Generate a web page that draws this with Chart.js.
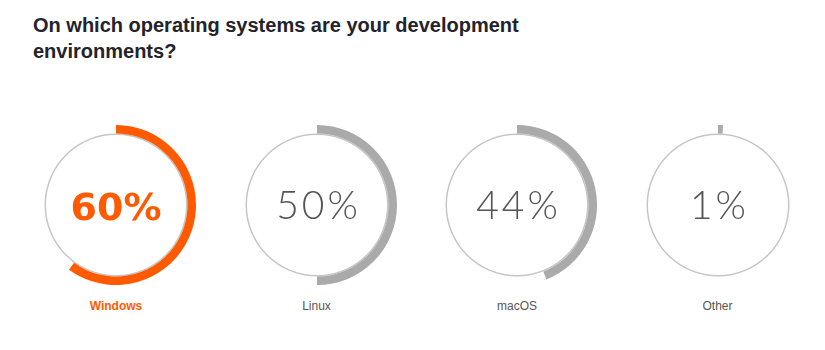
<!DOCTYPE html>
<html>
<head>
<meta charset="utf-8">
<script src="https://cdn.jsdelivr.net/npm/chart.js@4.4.1/dist/chart.umd.min.js"></script>
<style>
  body { margin: 0; background: #fff; width: 825px; height: 350px; position: relative; overflow: hidden; }
  h1 { position: absolute; left: 33px; top: 11.5px; margin: 0; width: 520px;
       font: bold 20px "Liberation Sans", Arial, sans-serif; line-height: 26.6px; color: #23232b; }
  .ring { position: absolute; top: 125px; width: 160px; height: 160px; }
  .label { position: absolute; top: 299px; width: 160px; text-align: center;
           font: 12px "Liberation Sans", Arial, sans-serif; color: #555; }
  .label.hi { color: #ff5a00; font-weight: bold; }
</style>
</head>
<body>
<h1>On which operating systems are your development environments?</h1>
<div id="charts"></div>
<script>
// survey results
const systems = ["Windows", "Linux", "macOS", "Other"];
const shares = [60, 50, 44, 1];
const highlight = [true, false, false, false];

const orange = "#ff5a00";
const arcGray = "#aaaaaa";
const trackGray = "#c6c6c6";

const centerText = {
    id: "centerText",
    afterDraw(chart, args, opts) {
        const { ctx, chartArea } = chart;
        const cx = (chartArea.left + chartArea.right) / 2;
        ctx.save();
        ctx.fillStyle = opts.color;
        ctx.font = opts.font;
        ctx.textAlign = "center";
        ctx.textBaseline = "alphabetic";
        if (opts.spacing) ctx.letterSpacing = opts.spacing;
        ctx.fillText(opts.text, cx + (opts.shift || 0), opts.y);
        ctx.restore();
    }
};

const holder = document.getElementById("charts");

systems.forEach((name, i) => {
    const left = 36 + i * 200.5;

    let box = document.createElement("div");
    box.className = "ring";
    box.style.left = left + "px";
    let canvas = document.createElement("canvas");
    canvas.width = 160;
    canvas.height = 160;
    box.appendChild(canvas);
    holder.appendChild(box);

    let label = document.createElement("div");
    label.className = highlight[i] ? "label hi" : "label";
    label.style.left = left + "px";
    label.textContent = name;
    holder.appendChild(label);

    const color = highlight[i] ? orange : arcGray;

    new Chart(canvas.getContext("2d"), {
        type: "doughnut",
        data: {
            labels: [name, ""],
            datasets: [
                {
                    data: [shares[i], 100 - shares[i]],
                    backgroundColor: [color, "rgba(0,0,0,0)"],
                    borderWidth: 0,
                    weight: 8.5
                },
                {
                    data: [100],
                    backgroundColor: [trackGray],
                    borderWidth: 0,
                    weight: 1.5
                }
            ]
        },
        options: {
            responsive: false,
            animation: false,
            cutout: "87.5%",
            layout: { padding: 0 },
            events: [],
            plugins: {
                legend: { display: false },
                tooltip: { enabled: false },
                centerText: highlight[i]
                    ? { text: shares[i] + "%", color: orange, font: "bold 38px 'DejaVu Sans'", y: 95 }
                    : { text: shares[i] + "%", color: "#555", font: "300 39px Lato", spacing: "3px", shift: 1.5, y: 93.5 }
            }
        },
        plugins: [centerText]
    });
});
</script>
</body>
</html>
